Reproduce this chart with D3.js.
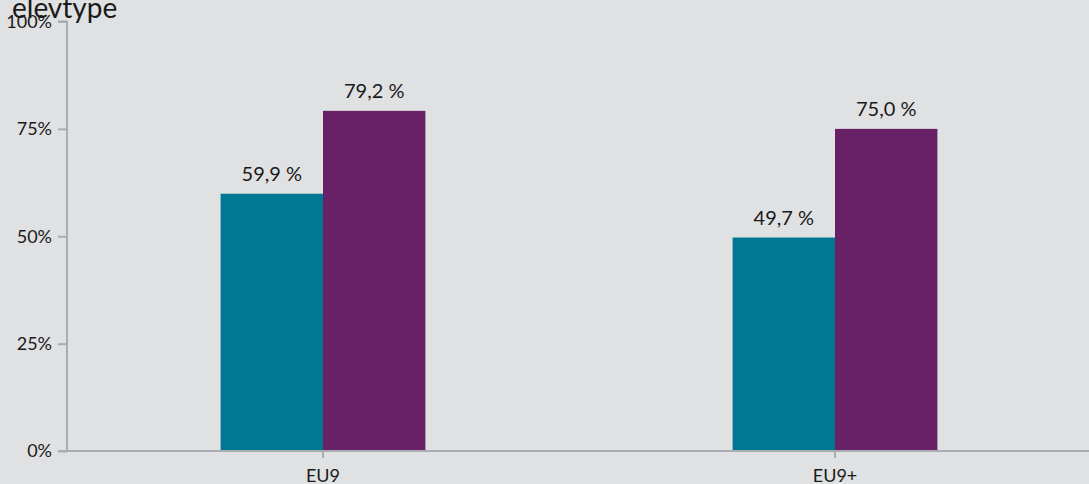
<!DOCTYPE html>
<html>
<head>
<meta charset="utf-8">
<script src="https://cdn.jsdelivr.net/npm/d3@7"></script>
<style>
  html, body { margin: 0; padding: 0; background: #e0e1e3; }
  svg { display: block; font-family: Lato, "Open Sans", sans-serif; }
</style>
</head>
<body>
<svg id="chart" width="1089" height="484"></svg>
<script>
const categories = ["EU9", "EU9+"];
const seriesNames = ["A", "B"];
const seriesA = [59.9, 49.7];
const seriesB = [79.2, 75.0];
const yTicks = [0, 25, 50, 75, 100];
const colors = ["#007894", "#682167"];
const title = "elevtype";

(function () {
const svg = d3.select("#chart");
const W = 1089, H = 484;
const mLeft = 67, mTop = 21.5, mBottom = 451;

svg.append("rect").attr("width", W).attr("height", H).attr("fill", "#e0e1e3");

const x = d3.scaleBand().domain(categories).range([mLeft, 1091]).paddingInner(0.6).paddingOuter(0.3);
const xs = d3.scaleBand().domain(seriesNames).range([0, x.bandwidth()]);
const y = d3.scaleLinear().domain([0, 100]).range([mBottom, mTop]);

const data = categories.map((c, i) => ({ cat: c, vals: [
  { s: "A", v: seriesA[i], color: colors[0] },
  { s: "B", v: seriesB[i], color: colors[1] }
]}));

const g = svg.selectAll("g.cat").data(data).join("g").attr("class", "cat")
  .attr("transform", d => `translate(${x(d.cat)},0)`);

g.selectAll("rect").data(d => d.vals).join("rect")
  .attr("x", d => xs(d.s))
  .attr("y", d => y(d.v))
  .attr("width", xs.bandwidth())
  .attr("height", d => mBottom - y(d.v))
  .attr("fill", d => d.color);

g.selectAll("text.val").data(d => d.vals).join("text").attr("class", "val")
  .attr("x", d => xs(d.s) + xs.bandwidth() / 2)
  .attr("y", d => y(d.v) - 13)
  .attr("text-anchor", "middle")
  .attr("font-size", 20)
  .attr("fill", "#1a1a1a")
  .text(d => d.v.toFixed(1).replace(".", ",") + " %");

// y axis
const yAxis = svg.append("g").attr("transform", `translate(${mLeft},0)`)
  .call(d3.axisLeft(y).tickValues(yTicks).tickFormat(d => d + "%").tickSize(9).tickPadding(6));
yAxis.select(".domain").attr("stroke", "#a9acb1").attr("stroke-width", 2).attr("d", `M-9,${mTop}H0V${mBottom}`);
yAxis.selectAll(".tick line").attr("stroke", "#a9acb1").attr("stroke-width", 2);
yAxis.selectAll(".tick text").attr("font-size", 18).attr("fill", "#1a1a1a").attr("font-family", "Lato, sans-serif");

// x axis
const xAxis = svg.append("g").attr("transform", `translate(0,${mBottom})`)
  .call(d3.axisBottom(x).tickSize(7).tickPadding(11));
xAxis.select(".domain").attr("stroke", "#a9acb1").attr("stroke-width", 2).attr("d", `M${mLeft - 9},0H${W}`);
xAxis.selectAll(".tick line").attr("stroke", "#a9acb1").attr("stroke-width", 2);
xAxis.selectAll(".tick text").attr("font-size", 18).attr("fill", "#1a1a1a").attr("font-family", "Lato, sans-serif");

svg.append("text").attr("x", 12).attr("y", 18).attr("font-size", 28).attr("fill", "#1a1a1a").text(title);
})();
</script>
</body>
</html>
